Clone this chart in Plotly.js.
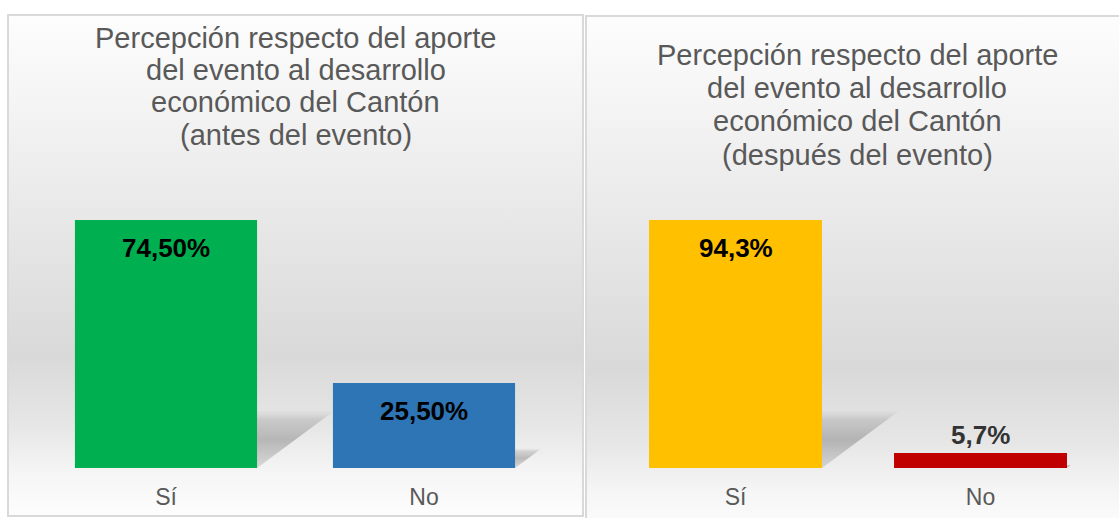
<!DOCTYPE html>
<html>
<head>
<meta charset="utf-8">
<script src="https://cdn.plot.ly/plotly-3.0.1.min.js"></script>
<style>
  html, body { margin:0; padding:0; background:#ffffff; overflow:hidden; }
  #wrap { position:relative; width:1119px; height:518px; }
  .panel { position:absolute; box-sizing:border-box; border:2px solid #d9d9d9;
    background:linear-gradient(to bottom, #fdfdfd 0%, #ececec 33%, #d9d9d9 68%, #e6e6e6 82%, #f6f6f6 92%, #fdfdfd 100%); }
  #p1 { left:7px; top:14px; width:577px; height:503px; }
  #p2 { left:585px; top:15px; width:540px; height:520px; border-right:none; border-bottom:none; }
  #chart { position:absolute; left:0; top:0; width:1119px; height:518px; }
</style>
</head>
<body>
<div id="wrap">
  <div class="panel" id="p1"></div>
  <div class="panel" id="p2"></div>
  <div id="chart"></div>
</div>
<script>
// ---- data ----
const categories = ['Sí', 'No'];
const valuesBefore = [74.5, 25.5];
const valuesAfter = [94.3, 5.7];
const labelsBefore = ['74,50%', '25,50%'];
const labelsAfter = ['94,3%', '5,7%'];
const colorsBefore = ['#00B050', '#2E75B6'];
const colorsAfter = ['#FFC000', '#C00000'];
const titleBefore = ['Percepción respecto del aporte', 'del evento al desarrollo', 'económico del Cantón', '(antes del evento)'];
const titleAfter = ['Percepción respecto del aporte', 'del evento al desarrollo', 'económico del Cantón', '(después del evento)'];

// ---- layout geometry ----
const W = 1119, H = 518;
const plotBottomPx = 468, plotTopPx = 200;
const plotH = plotBottomPx - plotTopPx;
const barTopPx = 220;
const panels = [
  { values: valuesBefore, labels: labelsBefore, colors: colorsBefore, title: titleBefore,
    x0: 37, x1: 553, titleCx: 296, titleY: [38, 70, 102, 135], xa: 'x', ya: 'y' },
  { values: valuesAfter, labels: labelsAfter, colors: colorsAfter, title: titleAfter,
    x0: 613, x1: 1103, titleCx: 857, titleY: [55, 88, 121, 155], xa: 'x2', ya: 'y2' }
];
const barWidth = 0.706;
const xs = categories.map((c, i) => i);

const traces = [];
const annotations = [];
const font = 'Liberation Sans, Arial, sans-serif';

panels.forEach((p, k) => {
  const ymax = Math.max(...p.values) * plotH / (plotBottomPx - barTopPx);
  p.ymax = ymax;
  const pxPerX = (p.x1 - p.x0) / 2;
  traces.push({
    type: 'bar', xaxis: p.xa, yaxis: p.ya,
    x: xs, y: p.values, width: barWidth,
    marker: { color: p.colors, line: { width: 0 } },
    hoverinfo: 'skip', showlegend: false
  });
  // soft perspective shadows (only the part visible beside each bar)
  p.values.forEach((v, i) => {
    const hPx = v / ymax * plotH;
    const shift = 0.31 * hPx / pxPerX;
    const top = 0.23 * v;
    const r = i + barWidth / 2;
    traces.push({
      type: 'scatter', mode: 'lines', xaxis: p.xa, yaxis: p.ya,
      x: [r, r + shift, r, r],
      y: [0, top, top, 0],
      fill: 'toself', line: { width: 0 },
      fillcolor: 'rgba(120,120,120,0.3)',
      fillgradient: { type: 'vertical',
        colorscale: [[0, 'rgba(120,120,120,0.22)'], [0.5, 'rgba(110,110,110,0.42)'], [0.85, 'rgba(120,120,120,0.25)'], [1, 'rgba(150,150,150,0.04)']] },
      hoverinfo: 'skip', showlegend: false
    });
  });
  p.values.forEach((v, i) => {
    const inside = v > 15;
    annotations.push({
      xref: p.xa, yref: p.ya, x: i, y: v,
      text: '<b>' + p.labels[i] + '</b>', showarrow: false,
      yanchor: 'middle', yshift: inside ? -28 : 18,
      font: { family: font, size: 26, color: inside ? '#000000' : '#333333' }
    });
  });
  p.title.forEach((t, j) => {
    annotations.push({
      xref: 'paper', yref: 'paper', x: p.titleCx / W, y: 1 - p.titleY[j] / H,
      xanchor: 'center', yanchor: 'middle', text: t, showarrow: false,
      font: { family: font, size: 29, color: '#595959' }
    });
  });
});

const yDomain = [(H - plotBottomPx) / H, (H - plotTopPx) / H];
function xAxis(p) {
  return {
    domain: [p.x0 / W, p.x1 / W], range: [-0.5, 1.5],
    tickvals: xs, ticktext: categories,
    ticks: 'outside', ticklen: 8, tickcolor: 'rgba(0,0,0,0)',
    showgrid: false, zeroline: false, showline: false,
    tickfont: { family: font, size: 23, color: '#595959' }, fixedrange: true
  };
}
function yAxis(p, anchor) {
  return {
    domain: yDomain, range: [0, p.ymax], anchor: anchor,
    visible: false, showgrid: false, zeroline: false, fixedrange: true
  };
}

const layout = {
  width: W, height: H,
  margin: { l: 0, r: 0, t: 0, b: 0 },
  paper_bgcolor: 'rgba(0,0,0,0)', plot_bgcolor: 'rgba(0,0,0,0)',
  xaxis: Object.assign(xAxis(panels[0]), { anchor: 'y' }),
  yaxis: yAxis(panels[0], 'x'),
  xaxis2: Object.assign(xAxis(panels[1]), { anchor: 'y2' }),
  yaxis2: yAxis(panels[1], 'x2'),
  annotations: annotations,
  showlegend: false
};

Plotly.newPlot('chart', traces, layout, { staticPlot: true, displayModeBar: false });
</script>
</body>
</html>
